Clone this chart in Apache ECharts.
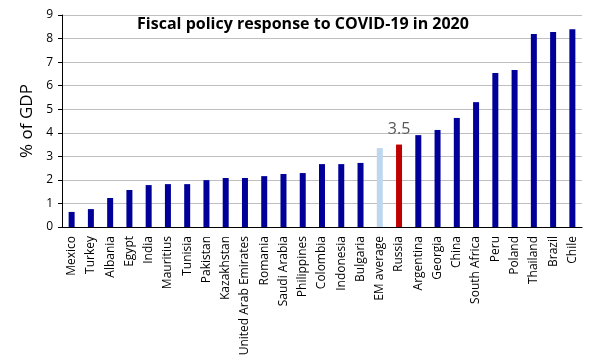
<!DOCTYPE html>
<html><head><meta charset="utf-8">
<script src="https://cdn.jsdelivr.net/npm/echarts@6/dist/echarts.min.js"></script>
<style>html,body{margin:0;padding:0;background:#fff}#c{width:596px;height:360px}</style>
</head><body><div id="c"></div>
<script>
const categories = ["Mexico","Turkey","Albania","Egypt","India","Mauritius","Tunisia","Pakistan","Kazakhstan","United Arab Emirates","Romania","Saudi Arabia","Philippines","Colombia","Indonesia","Bulgaria","EM average","Russia","Argentina","Georgia","China","South Africa","Peru","Poland","Thailand","Brazil","Chile"];
const values = [0.64,0.76,1.23,1.57,1.78,1.82,1.82,1.99,2.08,2.08,2.16,2.25,2.29,2.67,2.67,2.72,3.35,3.5,3.9,4.12,4.63,5.3,6.54,6.66,8.19,8.28,8.4];
const highlight = {"EM average":"#BDD7EE","Russia":"#C00000"};
const labelled = {"Russia":"3.5"};
const chart = echarts.init(document.getElementById('c'));
chart.setOption({
  animation:false,
  title:{text:"Fiscal policy response to COVID-19 in 2020",left:298,top:11,textAlign:'center',
    textStyle:{fontFamily:"Open Sans",fontWeight:'bold',fontSize:16,color:'#000'}},
  grid:{left:62,right:14,top:15,bottom:133,containLabel:false},
  xAxis:{type:'category',data:categories,
    axisLine:{lineStyle:{color:'#000',width:1}},axisTick:{show:false},
    axisLabel:{interval:0,rotate:90,fontFamily:"Open Sans",fontSize:12,color:'#000',margin:9}},
  yAxis:{type:'value',min:0,max:9,interval:1,name:"% of GDP",nameLocation:'middle',nameGap:25,
    nameTextStyle:{fontFamily:"Open Sans",fontSize:17,color:'#000'},
    axisLine:{show:true,lineStyle:{color:'#000'}},axisTick:{show:true,length:4,lineStyle:{color:'#000'}},
    axisLabel:{fontFamily:"Open Sans",fontSize:12,color:'#000',margin:9},
    splitLine:{lineStyle:{color:'#BFBFBF'}}},
  series:[{type:'bar',barWidth:6,
    data:values.map((v,i)=>({value:v,itemStyle:{color:highlight[categories[i]]||'#000099'},
      label:labelled[categories[i]]?{show:true,position:'top',formatter:labelled[categories[i]],fontFamily:"Open Sans",fontSize:16,color:'#595959',distance:7}:{show:false}}))}]
});
</script></body></html>
